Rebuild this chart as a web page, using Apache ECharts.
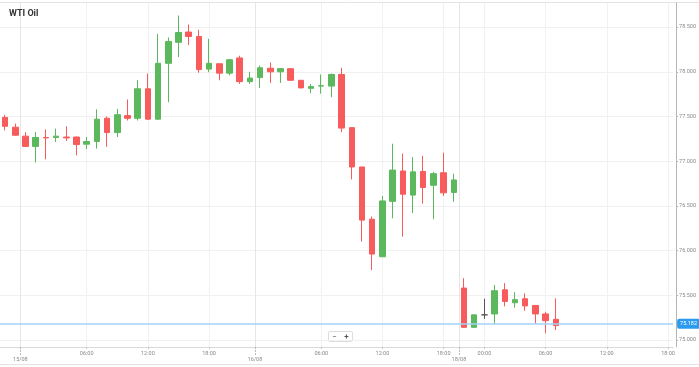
<!DOCTYPE html>
<html><head><meta charset="utf-8">
<script src="https://cdn.jsdelivr.net/npm/echarts@6/dist/echarts.min.js"></script>
<style>html,body{margin:0;padding:0;background:#fff}#c{width:699px;height:367px}</style>
</head><body><div id="c"></div>
<script>
// hourly slots (market-hours compressed axis)
const slots = [
 "14/08 21:00","14/08 22:00",
 "15/08 00:00","15/08 01:00","15/08 02:00","15/08 03:00","15/08 04:00","15/08 05:00","15/08 06:00","15/08 07:00",
 "15/08 08:00","15/08 09:00","15/08 10:00","15/08 11:00","15/08 12:00","15/08 13:00","15/08 14:00","15/08 15:00",
 "15/08 16:00","15/08 17:00","15/08 18:00","15/08 19:00","15/08 20:00","15/08 21:00","15/08 22:00",
 "16/08 00:00","16/08 01:00","16/08 02:00","16/08 03:00","16/08 04:00","16/08 05:00","16/08 06:00","16/08 07:00",
 "16/08 08:00","16/08 09:00","16/08 10:00","16/08 11:00","16/08 12:00","16/08 13:00","16/08 14:00","16/08 15:00",
 "16/08 16:00","16/08 17:00","16/08 18:00","16/08 19:00",
 "18/08 22:00","18/08 23:00",
 "19/08 00:00","19/08 01:00","19/08 02:00","19/08 03:00","19/08 04:00","19/08 05:00","19/08 06:00","19/08 07:00",
 "19/08 08:00","19/08 09:00","19/08 10:00","19/08 11:00","19/08 12:00","19/08 13:00","19/08 14:00","19/08 15:00",
 "19/08 16:00","19/08 17:00","19/08 18:00"
];
const hourLabels = ["15/08 06:00","15/08 12:00","15/08 18:00","16/08 06:00","16/08 12:00","16/08 18:00",
 "19/08 00:00","19/08 06:00","19/08 12:00","19/08 18:00"];
const sessionStarts = ["15/08 00:00","16/08 00:00","18/08 22:00"];
const sessionLabels = ["15/08","16/08","18/08"];
const yTicks = [75.0, 75.5, 76.0, 76.5, 77.0, 77.5, 78.0, 78.5];

const opens  = [77.49,77.38,77.28,77.165,77.265,77.265,77.27,77.27,77.19,77.22,77.48,77.32,77.51,77.48,77.81,77.47,78.095,78.33,78.445,78.395,78.03,78.09,77.985,78.155,77.89,77.935,78.04,78.0,78.035,77.905,77.815,77.84,77.84,77.97,77.375,76.935,76.35,75.93,76.55,76.89,76.62,76.885,76.73,76.87,76.65,75.58,75.14,75.28,75.29,75.56,75.415,75.46,75.385,75.29,75.23];
const closes = [77.39,77.29,77.165,77.265,77.26,77.28,77.26,77.185,77.22,77.47,77.32,77.52,77.48,77.81,77.47,78.095,78.34,78.44,78.395,78.025,78.095,77.985,78.135,77.89,77.93,78.045,78.0,78.035,77.905,77.82,77.835,77.845,77.97,77.37,76.935,76.34,75.96,76.555,76.90,76.63,76.88,76.705,76.86,76.645,76.79,75.14,75.28,75.28,75.55,75.43,75.45,75.38,75.29,75.215,75.16];
const lows   = [77.345,77.285,77.16,76.985,77.02,77.215,77.225,77.065,77.135,77.14,77.16,77.27,77.455,77.455,77.46,77.46,77.66,78.165,78.30,77.99,77.995,77.905,77.96,77.865,77.865,77.82,77.875,77.875,77.90,77.815,77.76,77.755,77.715,77.325,76.795,76.10,75.78,75.925,76.36,76.155,76.42,76.525,76.35,76.61,76.545,75.14,75.14,75.235,75.175,75.375,75.36,75.325,75.185,75.075,75.11];
const highs  = [77.52,77.42,77.325,77.325,77.355,77.365,77.39,77.275,77.27,77.58,77.50,77.585,77.69,77.905,77.98,78.425,78.385,78.63,78.53,78.47,78.37,78.09,78.145,78.18,78.0,78.07,78.105,78.04,78.04,77.905,77.865,77.97,77.98,78.045,77.375,76.935,76.38,76.61,77.195,77.085,77.045,77.06,76.88,77.095,76.86,75.69,75.28,75.46,75.615,75.635,75.535,75.52,75.39,75.315,75.465];
const currentPrice = 75.182;

const candles = opens.map((o, i) => [o, closes[i], lows[i], highs[i]]);
const hourPos = hourLabels.map(h => slots.indexOf(h));
const sepPos = sessionStarts.map(s => slots.indexOf(s) - 0.5);
const xMin = -0.5, xMax = slots.length - 0.5;
const FONT = 'Roboto, "Open Sans", sans-serif';

const chart = echarts.init(document.getElementById('c'), null, {renderer: 'canvas'});
chart.setOption({
  animation: false,
  backgroundColor: '#fff',
  title: {text: 'WTI Oil', left: 4, top: 4,
    textStyle: {fontSize: 9, fontWeight: 'bold', color: '#333', fontFamily: FONT}},
  grid: {left: -1, right: 22, top: 3, bottom: 20, containLabel: false},
  xAxis: [
    {type: 'category', data: slots, boundaryGap: true, position: 'bottom',
      axisLine: {show: true, onZero: false, lineStyle: {color: '#d9d9d9'}},
      axisTick: {show: false}, axisLabel: {show: false}, splitLine: {show: false}},
    {type: 'value', min: xMin, max: xMax, position: 'bottom',
      axisLine: {show: false, onZero: false},
      axisTick: {show: true, customValues: hourPos, length: 2, lineStyle: {color: '#c8c8c8'}},
      axisLabel: {show: true, customValues: hourPos, formatter: v => slots[Math.round(v)].slice(6),
        fontSize: 5.5, color: '#888', margin: 3.5, fontFamily: FONT},
      splitLine: {show: true, lineStyle: {color: '#f1f1f1'}}},
    {type: 'value', min: xMin, max: xMax, position: 'bottom',
      axisLine: {show: false, onZero: false},
      axisTick: {show: true, customValues: sepPos, length: 8, lineStyle: {color: '#bbb', type: [2, 1]}},
      axisLabel: {show: true, customValues: sepPos,
        formatter: v => sessionLabels[sepPos.indexOf(v)], fontSize: 5.5, color: '#888', margin: 10, fontFamily: FONT},
      splitLine: {show: true, lineStyle: {color: '#e6e6e6'}}}
  ],
  yAxis: {type: 'value', position: 'right', offset: 3, min: 74.92, max: 78.77, scale: true,
    axisLine: {show: true, onZero: false, lineStyle: {color: '#b5b5b5'}},
    axisTick: {show: true, customValues: yTicks, length: 2, lineStyle: {color: '#b5b5b5'}},
    axisLabel: {show: true, customValues: yTicks, formatter: v => v.toFixed(3),
      fontSize: 5.5, color: '#888', margin: 3, fontFamily: FONT},
    splitLine: {show: true, lineStyle: {color: '#f1f1f1'}}},
  series: [{
    type: 'candlestick', xAxisIndex: 0, data: candles, barWidth: 6,
    itemStyle: {color: '#5cb85c', color0: '#f85b5b', borderColor: '#5cb85c', borderColor0: '#f85b5b',
      borderColorDoji: '#555', borderWidth: 1},
    markLine: {symbol: 'none', silent: true, animation: false,
      data: [{yAxis: currentPrice}],
      lineStyle: {color: '#a3d3f7', width: 1.5, type: 'solid'},
      label: {position: 'end', formatter: currentPrice.toFixed(3), backgroundColor: '#2b9bf0', color: '#fff',
        fontSize: 5.5, padding: [2, 3], borderRadius: 2, distance: 4, fontFamily: FONT}}
  }],
  graphic: [
    {type: 'line', shape: {x1: 0, y1: 2.5, x2: 699, y2: 2.5}, style: {stroke: '#e3e3e3', lineWidth: 1}, silent: true},
    {type: 'line', shape: {x1: 0, y1: 364.5, x2: 699, y2: 364.5}, style: {stroke: '#e3e3e3', lineWidth: 1}, silent: true},
    {type: 'rect', shape: {x: 328.5, y: 331.5, width: 24, height: 10, r: 1},
      style: {fill: '#fff', stroke: '#dcdcdc', lineWidth: 1}, silent: true},
    {type: 'text', x: 334.5, y: 336.5, style: {text: '−', fontSize: 8, fill: '#555', align: 'center', verticalAlign: 'middle', fontFamily: FONT}, silent: true},
    {type: 'text', x: 346.5, y: 336.5, style: {text: '+', fontSize: 8, fill: '#555', align: 'center', verticalAlign: 'middle', fontWeight: 'bold', fontFamily: FONT}, silent: true}
  ]
});
</script></body></html>
